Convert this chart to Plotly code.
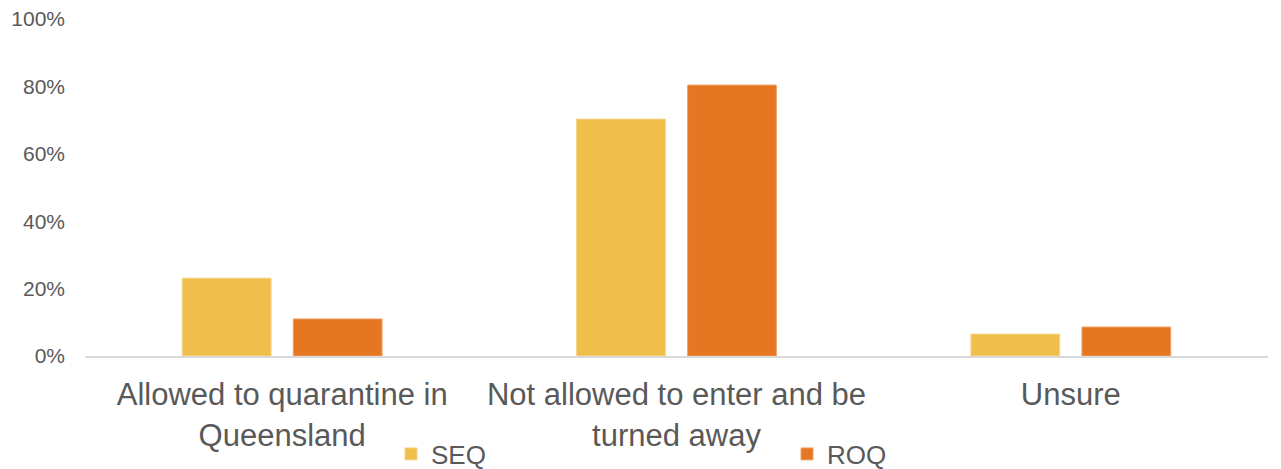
import plotly.graph_objects as go

categories = ["Allowed to quarantine in<br>Queensland", "Not allowed to enter and be<br>turned away", "Unsure"]
seq_values = [0.231, 0.703, 0.065]
roq_values = [0.110, 0.804, 0.086]
y_ticks = [0, 0.2, 0.4, 0.6, 0.8, 1.0]
y_tick_labels = ["0%", "20%", "40%", "60%", "80%", "100%"]

W, H = 1281, 469

fig = go.Figure()
fig.add_trace(go.Bar(name="SEQ", x=categories, y=seq_values,
                     marker=dict(color="#F0BE4B", line=dict(color="#F6D489", width=1))))
fig.add_trace(go.Bar(name="ROQ", x=categories, y=roq_values,
                     marker=dict(color="#E67722", line=dict(color="#F0A36A", width=1))))

fig.update_layout(
    width=W, height=H,
    margin=dict(l=85, r=13, t=19, b=113, autoexpand=False),
    paper_bgcolor="white", plot_bgcolor="white",
    barmode="group", bargap=0.437, bargroupgap=0.2,
    font=dict(family="Arial, Liberation Sans, sans-serif", color="#595959"),
    showlegend=True,
    legend=dict(orientation="h", xref="container", x=391/W, xanchor="left",
                yref="container", y=15/H, yanchor="middle",
                entrywidth=351, entrywidthmode="pixels",
                font=dict(size=26, color="#595959"), itemwidth=30,
                bgcolor="rgba(0,0,0,0)"),
    xaxis=dict(showline=True, linecolor="#D9D9D9", linewidth=2,
               showgrid=False, ticks="", tickfont=dict(size=31, color="#595959"),
               ticklabelstandoff=10),
    yaxis=dict(range=[0, 1.0], tickvals=y_ticks, ticktext=y_tick_labels,
               showgrid=False, showline=False, zeroline=False, ticks="",
               tickfont=dict(size=21, color="#595959"), ticklabelstandoff=19),
)

fig.write_html("out.html", config={"displayModeBar": False},
               post_script="document.body.style.margin='0';")
